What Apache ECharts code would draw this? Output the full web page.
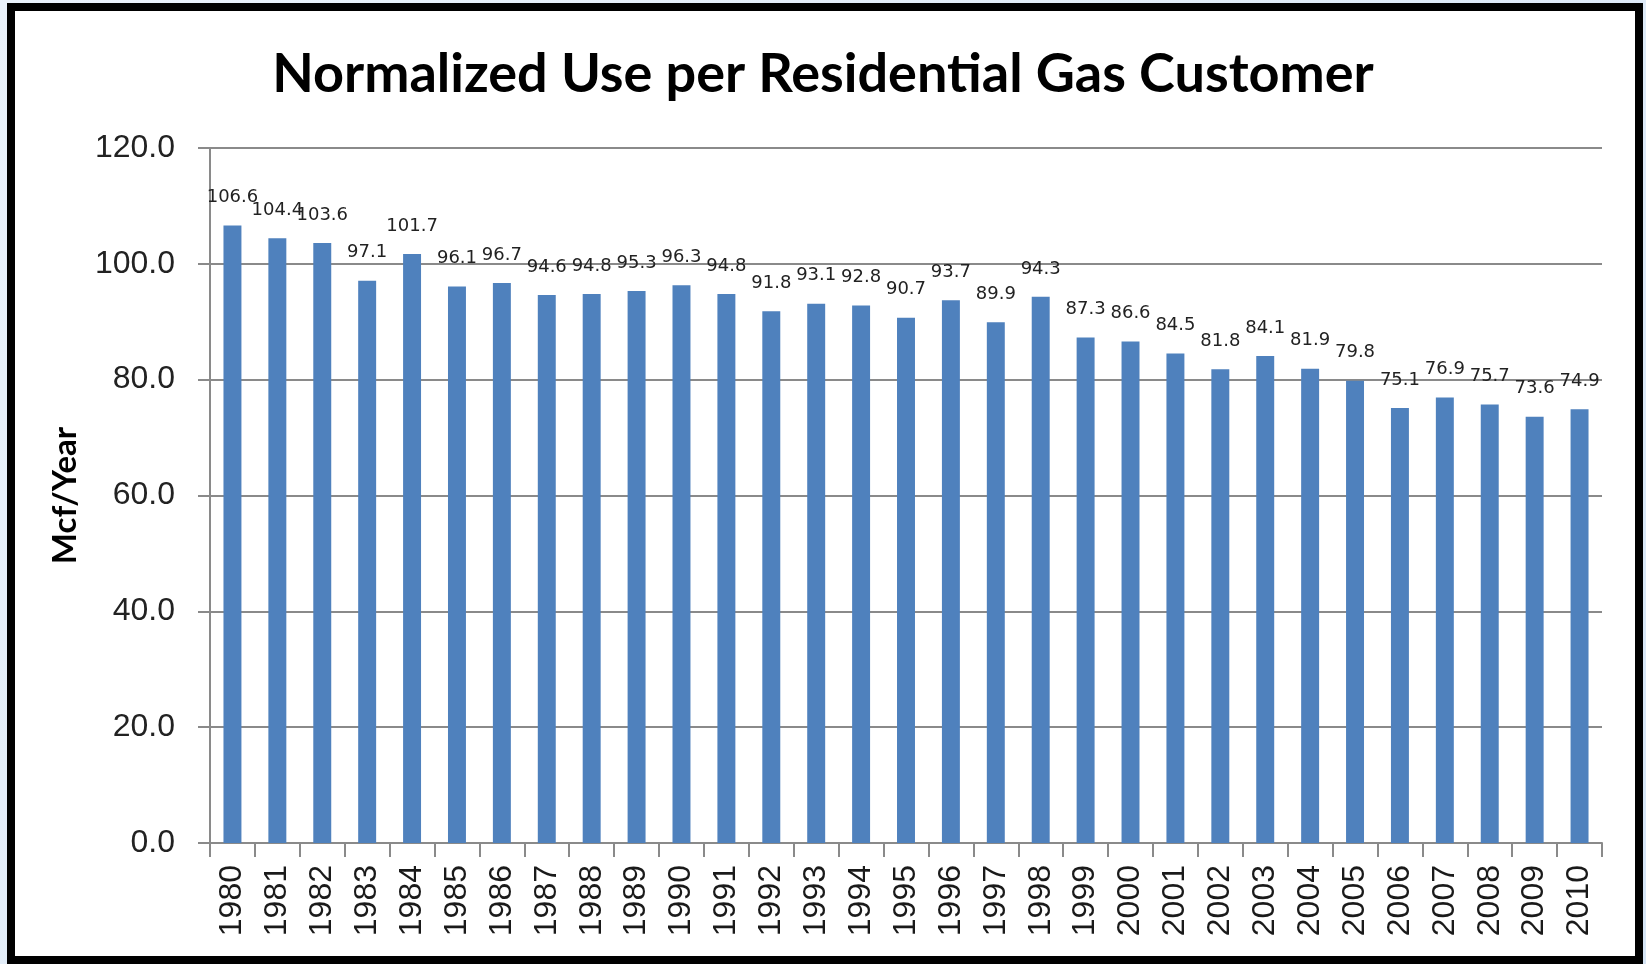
<!DOCTYPE html>
<html>
<head>
<meta charset="utf-8">
<script src="https://cdn.jsdelivr.net/npm/echarts@6/dist/echarts.min.js"></script>
<style>
  html, body { margin: 0; padding: 0; width: 1646px; height: 964px; overflow: hidden;
    background: linear-gradient(135deg, #eaf2fb 0%, #d6e5f5 100%); }
  #frame { position: absolute; left: 7px; top: 3px; width: 1636px; height: 961px;
    border: 8px solid #000; box-sizing: border-box; background: #fff; }
  #chart { position: absolute; left: 0; top: 0; width: 1646px; height: 964px; }
</style>
</head>
<body>
<div id="frame"></div>
<div id="chart"></div>
<script>
const titleText = 'Normalized Use per Residential Gas Customer';
const yAxisName = 'Mcf/Year';
const years = ['1980','1981','1982','1983','1984','1985','1986','1987','1988','1989',
  '1990','1991','1992','1993','1994','1995','1996','1997','1998','1999',
  '2000','2001','2002','2003','2004','2005','2006','2007','2008','2009','2010'];
const usePerCustomer = [106.6,104.4,103.6,97.1,101.7,96.1,96.7,94.6,94.8,95.3,
  96.3,94.8,91.8,93.1,92.8,90.7,93.7,89.9,94.3,87.3,
  86.6,84.5,81.8,84.1,81.9,79.8,75.1,76.9,75.7,73.6,74.9];
const yMin = 0, yMax = 120, yStep = 20;

const chart = echarts.init(document.getElementById('chart'), null, { renderer: 'canvas' });
chart.setOption({
  backgroundColor: 'transparent',
  animation: false,
  title: {
    text: titleText,
    left: 'center',
    top: 39,
    textStyle: { fontFamily: 'Lato', fontWeight: 'bold', fontSize: 54, color: '#000', lineHeight: 62 }
  },
  grid: { left: 210, right: 44, top: 148, bottom: 121 },
  xAxis: {
    type: 'category',
    data: years,
    axisLine: { lineStyle: { color: '#8a8a8a', width: 2 } },
    axisTick: { show: true, length: 14, lineStyle: { color: '#8a8a8a', width: 2 } },
    axisLabel: { rotate: 90, margin: 22, fontFamily: 'Liberation Sans', fontSize: 32, color: '#1a1a1a', interval: 0 }
  },
  yAxis: {
    type: 'value',
    min: yMin, max: yMax, interval: yStep,
    name: yAxisName,
    nameLocation: 'middle',
    nameGap: 128,
    nameRotate: 90,
    nameTextStyle: { fontFamily: 'Lato', fontWeight: 'bold', fontSize: 33, color: '#000' },
    axisLine: { show: true, lineStyle: { color: '#8a8a8a', width: 2 } },
    axisTick: { show: true, length: 12, lineStyle: { color: '#8a8a8a', width: 2 } },
    splitLine: { show: true, lineStyle: { color: '#8a8a8a', width: 2 } },
    axisLabel: { margin: 35, fontFamily: 'Liberation Sans', fontSize: 32, color: '#222',
      formatter: v => v.toFixed(1) }
  },
  series: [{
    type: 'bar',
    data: usePerCustomer,
    barWidth: '40%',
    itemStyle: { color: '#4f81bd' },
    label: {
      show: true, position: 'top', distance: 19,
      fontFamily: 'DejaVu Sans', fontSize: 18, lineHeight: 18, color: '#222',
      formatter: p => p.value.toFixed(1)
    }
  }]
});
</script>
</body>
</html>
